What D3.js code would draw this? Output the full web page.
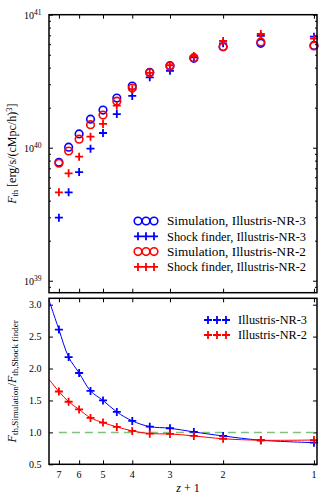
<!DOCTYPE html>
<html><head><meta charset="utf-8">
<script src="https://cdn.jsdelivr.net/npm/d3@7"></script>
<style>
body{margin:0;background:#fff}
text{font-family:"Liberation Serif","DejaVu Serif",serif;fill:#000}
</style>
</head><body>
<svg id="c" width="332" height="498"></svg>
<script>
// ---- data ----
const zPlus1 = [7, 6.5, 6, 5.5, 5, 4.5, 4, 3.5, 3, 2.5, 2, 1.5, 1];
const simNR3   = [7.76e39, 1.01e40, 1.27e40, 1.64e40, 1.92e40, 2.36e40, 2.91e40, 3.69e40, 4.14e40, 4.70e40, 5.74e40, 6.09e40, 5.87e40];
const shockNR3 = [2.98e39, 4.62e39, 6.56e39, 9.83e39, 1.29e40, 1.79e40, 2.45e40, 3.38e40, 3.79e40, 4.78e40, 6.09e40, 6.92e40, 6.84e40];
const simNR2   = [7.64e39, 9.45e39, 1.16e40, 1.49e40, 1.76e40, 2.24e40, 2.81e40, 3.66e40, 4.11e40, 4.75e40, 5.74e40, 6.24e40, 5.82e40];
const shockNR2 = [4.62e39, 6.42e39, 8.56e39, 1.21e40, 1.51e40, 2.07e40, 2.75e40, 3.65e40, 4.17e40, 4.89e40, 6.34e40, 7.16e40, 6.60e40];
const ratioNR3 = [2.61, 2.18, 1.93, 1.65, 1.50, 1.32, 1.18, 1.09, 1.065, 1.007, 0.944, 0.877, 0.839];
const ratioNR2 = [1.64, 1.48, 1.36, 1.227, 1.153, 1.086, 1.023, 0.98, 0.976, 0.944, 0.90, 0.877, 0.88];
// fit curves extend to the left edge of the axis
const fitEdgeZPlus1 = 7.55;
const fitEdgeNR3 = 3.07;
const fitEdgeNR2 = 1.83;
const xTicks = [7, 6, 5, 4, 3, 2, 1];
const fluxMajorTicks = [1e39, 1e40, 1e41];
const fluxTickExponents = ["39", "40", "41"];
const ratioTicks = [0.5, 1.0, 1.5, 2.0, 2.5, 3.0];
const ratioRef = 1.0;

const BLUE = "#0000ff", RED = "#ff0000";
const svg = d3.select("#c");

const L = 49, R = 317;
const topT = 14.7, topB = 292.7;
const botT = 298.3, botB = 464.3;

const x = d3.scaleLog().domain([7.55, 0.977]).range([L, R]);
const yTop = d3.scaleLog().domain([Math.pow(10, 38.91), 1e41]).range([topB, topT]);
const yBot = d3.scaleLinear().domain([0.5, 3.1]).range([botB, botT]);

function minorLog() {
  const out = [];
  for (let e = 38; e <= 40; e++) for (let m = 2; m <= 9; m++) {
    const v = m * Math.pow(10, e);
    if (v > yTop.domain()[0] && v < 1e41) out.push(v);
  }
  return out;
}

function styleAxis(g) {
  g.select(".domain").remove();
  g.selectAll(".tick line").attr("stroke", "#000").attr("stroke-width", 1);
  g.selectAll(".tick text").remove();
}

function frame(t, b) {
  svg.append("g").attr("transform", `translate(0,${b})`)
    .call(d3.axisBottom(x).tickValues(xTicks).tickSize(-4)).call(styleAxis);
  svg.append("g").attr("transform", `translate(0,${t})`)
    .call(d3.axisTop(x).tickValues(xTicks).tickSize(-4)).call(styleAxis);
}

// ---------- TOP PANEL ----------
frame(topT, topB);
[[L, d3.axisLeft], [R, d3.axisRight]].forEach(([px, ax]) => {
  svg.append("g").attr("transform", `translate(${px},0)`)
    .call(ax(yTop).tickValues(fluxMajorTicks).tickSize(-4)).call(styleAxis);
  svg.append("g").attr("transform", `translate(${px},0)`)
    .call(ax(yTop).tickValues(minorLog()).tickSize(-2)).call(styleAxis);
});
fluxMajorTicks.forEach((v, i) => {
  const t = svg.append("text").attr("x", 41.5).attr("y", yTop(v) + 4)
    .attr("text-anchor", "end").style("font-size", "10px");
  t.append("tspan").text("10");
  t.append("tspan").attr("dy", -4).style("font-size", "7.5px").text(fluxTickExponents[i]);
});

function circles(vals, color) {
  svg.append("g").selectAll("circle").data(zPlus1).join("circle")
    .attr("cx", d => x(d)).attr("cy", (d, i) => yTop(vals[i])).attr("r", 3.8)
    .attr("fill", "none").attr("stroke", color).attr("stroke-width", 1.6);
}
function plusPath(cx, cy, s) {
  return `M${cx - s},${cy}H${cx + s}M${cx},${cy - s}V${cy + s}`;
}
function pluses(xs, ys, color, s = 4) {
  svg.append("g").selectAll("path").data(xs).join("path")
    .attr("d", (d, i) => plusPath(d, ys[i], s))
    .attr("stroke", color).attr("stroke-width", 1.8).attr("fill", "none");
}
circles(simNR3, BLUE);
pluses(zPlus1.map(x), shockNR3.map(yTop), BLUE);
circles(simNR2, RED);
pluses(zPlus1.map(x), shockNR2.map(yTop), RED);

// legend top
const legTop = [
  {type: "o", color: BLUE, label: "Simulation, Illustris-NR-3"},
  {type: "+", color: BLUE, label: "Shock finder, Illustris-NR-3"},
  {type: "o", color: RED, label: "Simulation, Illustris-NR-2"},
  {type: "+", color: RED, label: "Shock finder, Illustris-NR-2"}
];
legTop.forEach((d, i) => {
  const cy = 221 + i * 15.3;
  [138, 146, 154].forEach(cx => {
    if (d.type === "o") {
      svg.append("circle").attr("cx", cx).attr("cy", cy).attr("r", 3.8)
        .attr("fill", "none").attr("stroke", d.color).attr("stroke-width", 1.6);
    } else {
      svg.append("path").attr("d", plusPath(cx, cy, 4)).attr("stroke", d.color).attr("stroke-width", 1.8);
    }
  });
  svg.append("text").attr("x", 167).attr("y", cy + 4.3).style("font-size", "12.8px")
    .attr("textLength", 139).attr("lengthAdjust", "spacingAndGlyphs").text(d.label);
});

// top y label
const ylab1 = svg.append("text").attr("transform", `translate(16,${(topT + topB) / 2}) rotate(-90)`)
  .attr("text-anchor", "middle").style("font-size", "12px");
ylab1.append("tspan").style("font-style", "italic").text("F");
ylab1.append("tspan").attr("dy", 2).style("font-size", "8.5px").text("th");
ylab1.append("tspan").attr("dy", -2).text(" [erg/s/(cMpc/h)");
ylab1.append("tspan").attr("dy", -4.5).style("font-size", "8.5px").text("3");
ylab1.append("tspan").attr("dy", 4.5).text("]");

// ---------- BOTTOM PANEL ----------
frame(botT, botB);
[[L, d3.axisLeft], [R, d3.axisRight]].forEach(([px, ax]) => {
  svg.append("g").attr("transform", `translate(${px},0)`)
    .call(ax(yBot).tickValues(ratioTicks).tickSize(-4)).call(styleAxis);
});
ratioTicks.forEach(v => {
  svg.append("text").attr("x", 41.5).attr("y", yBot(v) + 3.5).attr("text-anchor", "end")
    .style("font-size", "10px").text(v.toFixed(1));
});
xTicks.forEach(v => {
  svg.append("text").attr("x", x(v)).attr("y", 478).attr("text-anchor", "middle")
    .style("font-size", "10px").text(v);
});

svg.append("line").attr("x1", x(7)).attr("x2", x(1)).attr("y1", yBot(ratioRef)).attr("y2", yBot(ratioRef))
  .attr("stroke", "#80c080").attr("stroke-width", 1.5).attr("stroke-dasharray", "8,5");

const lineGen = d3.line().x(d => x(d[0])).y(d => yBot(d[1])).curve(d3.curveCatmullRom.alpha(0.5));
function ratioSeries(vals, edge, color) {
  const pts = [[fitEdgeZPlus1, edge]].concat(zPlus1.map((z, i) => [z, vals[i]]));
  svg.append("path").attr("d", lineGen(pts)).attr("fill", "none").attr("stroke", color).attr("stroke-width", 1);
  pluses(zPlus1.map(x), vals.map(yBot), color);
}
ratioSeries(ratioNR3, fitEdgeNR3, BLUE);
ratioSeries(ratioNR2, fitEdgeNR2, RED);

[{color: BLUE, label: "Illustris-NR-3"}, {color: RED, label: "Illustris-NR-2"}].forEach((d, i) => {
  const cy = 320 + i * 15;
  [208, 217, 226].forEach(cx => {
    svg.append("path").attr("d", plusPath(cx, cy, 4)).attr("stroke", d.color).attr("stroke-width", 1.8);
  });
  svg.append("text").attr("x", 238).attr("y", cy + 4.3).style("font-size", "12.8px")
    .attr("textLength", 69).attr("lengthAdjust", "spacingAndGlyphs").text(d.label);
});

// bottom y label
const ylab2 = svg.append("text").attr("transform", `translate(16,${(botT + botB) / 2}) rotate(-90)`)
  .attr("text-anchor", "middle").style("font-size", "12px");
ylab2.append("tspan").style("font-style", "italic").text("F");
ylab2.append("tspan").attr("dy", 2).style("font-size", "9px").text("th,Simulation");
ylab2.append("tspan").attr("dy", -2).text("/");
ylab2.append("tspan").style("font-style", "italic").text("F");
ylab2.append("tspan").attr("dy", 2).style("font-size", "9px").text("th,Shock finder");

// x label
const xl = svg.append("text").attr("x", 188).attr("y", 492).attr("text-anchor", "middle").style("font-size", "12px");
xl.append("tspan").style("font-style", "italic").text("z");
xl.append("tspan").text(" + 1");

[[topT, topB], [botT, botB]].forEach(([t, b]) => {
  svg.append("rect").attr("x", L).attr("y", t).attr("width", R - L).attr("height", b - t)
    .attr("fill", "none").attr("stroke", "#000").attr("stroke-width", 1.5);
});
</script>
</body></html>
